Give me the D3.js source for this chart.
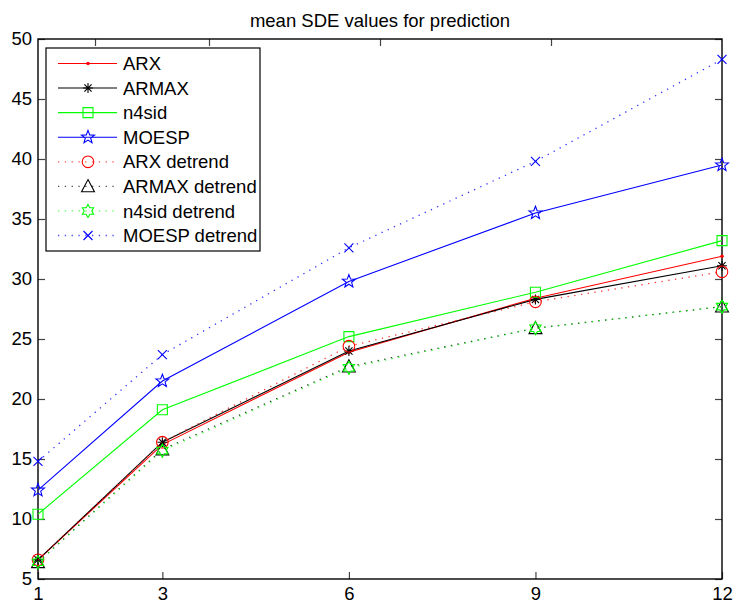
<!DOCTYPE html>
<html>
<head>
<meta charset="utf-8">
<script src="https://cdn.jsdelivr.net/npm/d3@7"></script>
<style>
  html, body { margin: 0; padding: 0; background: #fff; }
  svg { display: block; }
  text { font-family: "Liberation Sans", Arial, Helvetica, sans-serif; fill: #000; }
</style>
</head>
<body>
<svg id="chart" width="736" height="605"></svg>
<script>
// Prediction horizons (x axis)
const horizons = [1, 3, 6, 9, 12];
const xTicks = [1, 3, 6, 9, 12];
const yTicks = [5, 10, 15, 20, 25, 30, 35, 40, 45, 50];

// Mean SDE values per method
const arx          = [6.6, 16.2, 23.9, 28.4, 31.9];
const armax        = [6.6, 16.4, 24.0, 28.3, 31.1];
const n4sid        = [10.4, 19.1, 25.2, 28.9, 33.2];
const moesp        = [12.4, 21.5, 29.8, 35.5, 39.5];
const arxDetrend   = [6.6, 16.4, 24.4, 28.1, 30.6];
const armaxDetrend = [6.4, 15.8, 22.7, 25.9, 27.7];
const n4sidDetrend = [6.4, 15.7, 22.6, 25.9, 27.7];
const moespDetrend = [14.8, 23.7, 32.6, 39.8, 48.3];

const seriesNames = ["ARX", "ARMAX", "n4sid", "MOESP",
  "ARX detrend", "ARMAX detrend", "n4sid detrend", "MOESP detrend"];

const series = [
  { name: seriesNames[0], values: arx,          color: "#ff0000", dotted: false, marker: "point" },
  { name: seriesNames[1], values: armax,        color: "#000000", dotted: false, marker: "asterisk" },
  { name: seriesNames[2], values: n4sid,        color: "#00ff00", dotted: false, marker: "square" },
  { name: seriesNames[3], values: moesp,        color: "#0000ff", dotted: false, marker: "pentagram" },
  { name: seriesNames[4], values: arxDetrend,   color: "#ff0000", dotted: true,  marker: "circle" },
  { name: seriesNames[5], values: armaxDetrend, color: "#000000", dotted: true,  marker: "triangle" },
  { name: seriesNames[6], values: n4sidDetrend, color: "#00ff00", dotted: true,  marker: "hexagram" },
  { name: seriesNames[7], values: moespDetrend, color: "#0000ff", dotted: true,  marker: "cross" }
];

const svg = d3.select("#chart");
const plotLeft = 38, plotRight = 722, plotTop = 39, plotBottom = 579;

const x = d3.scaleLinear().domain([1, 12]).range([plotLeft, plotRight]);
const y = d3.scaleLinear().domain([5, 50]).range([plotBottom, plotTop]);
// top edge ticks are laid out on a 0..12 span
const xTop = d3.scaleLinear().domain([0, 12]).range([plotLeft, plotRight]);

const FONT = 18.5;

// Title
svg.append("text")
  .attr("x", (plotLeft + plotRight) / 2).attr("y", 27)
  .attr("text-anchor", "middle")
  .style("font-size", FONT + "px")
  .text("mean SDE values for prediction");

// Axes (ticks point inward, box drawn on all sides)
const tickLen = 7;
const axisBottom = svg.append("g").attr("transform", `translate(0,${plotBottom})`)
  .call(d3.axisBottom(x).tickValues(xTicks).tickSize(-tickLen).tickPadding(8).tickFormat(d3.format("d")));
const axisLeft = svg.append("g").attr("transform", `translate(${plotLeft},0)`)
  .call(d3.axisLeft(y).tickValues(yTicks).tickSize(-tickLen).tickPadding(6).tickFormat(d3.format("d")));
const axisTop = svg.append("g").attr("transform", `translate(0,${plotTop})`)
  .call(d3.axisTop(xTop).tickValues([1, 3, 6, 9]).tickSize(-tickLen).tickFormat(""));
const axisRight = svg.append("g").attr("transform", `translate(${plotRight},0)`)
  .call(d3.axisRight(y).tickValues(yTicks).tickSize(-tickLen).tickFormat(""));

[axisBottom, axisLeft, axisTop, axisRight].forEach(g => {
  g.select(".domain").remove();
  g.selectAll(".tick line").attr("stroke", "#444").attr("stroke-width", 1.2);
  g.selectAll(".tick text").style("font-size", FONT + "px")
    .style("font-family", "'Liberation Sans', Arial, sans-serif").attr("fill", "#000");
});

svg.append("rect")
  .attr("x", plotLeft).attr("y", plotTop)
  .attr("width", plotRight - plotLeft).attr("height", plotBottom - plotTop)
  .attr("fill", "none").attr("stroke", "#000").attr("stroke-width", 1.4);

// Marker shapes
function markerPath(type) {
  const p = d3.path();
  switch (type) {
    case "square": {
      const s = 5;
      p.rect(-s, -s, 2 * s, 2 * s);
      break;
    }
    case "circle":
      p.moveTo(5.8, 0); p.arc(0, 0, 5.8, 0, 2 * Math.PI);
      break;
    case "triangle": {
      const r = 6.8;
      p.moveTo(0, -r);
      p.lineTo(r * 0.95, r * 0.8);
      p.lineTo(-r * 0.95, r * 0.8);
      p.closePath();
      break;
    }
    case "cross": {
      const s = 4.5;
      p.moveTo(-s, -s); p.lineTo(s, s);
      p.moveTo(s, -s); p.lineTo(-s, s);
      break;
    }
    case "asterisk": {
      const s = 5;
      p.moveTo(-s, 0); p.lineTo(s, 0);
      p.moveTo(0, -s); p.lineTo(0, s);
      const d = s * 0.72;
      p.moveTo(-d, -d); p.lineTo(d, d);
      p.moveTo(d, -d); p.lineTo(-d, d);
      break;
    }
    case "pentagram": {
      const R = 6.8, r = R * 0.42;
      for (let i = 0; i < 10; i++) {
        const a = -Math.PI / 2 + i * Math.PI / 5;
        const rr = i % 2 === 0 ? R : r;
        const px = rr * Math.cos(a), py = rr * Math.sin(a);
        if (i === 0) p.moveTo(px, py); else p.lineTo(px, py);
      }
      p.closePath();
      break;
    }
    case "hexagram": {
      const R = 6.5, r = R / Math.sqrt(3);
      for (let i = 0; i < 12; i++) {
        const a = -Math.PI / 2 + i * Math.PI / 6;
        const rr = i % 2 === 0 ? R : r;
        const px = rr * Math.cos(a), py = rr * Math.sin(a);
        if (i === 0) p.moveTo(px, py); else p.lineTo(px, py);
      }
      p.closePath();
      break;
    }
    default:
      break;
  }
  return p.toString();
}

function drawMarker(g, type, color, cx, cy) {
  if (type === "point") {
    g.append("circle").attr("cx", cx).attr("cy", cy).attr("r", 1.8).attr("fill", color);
    return;
  }
  g.append("path")
    .attr("d", markerPath(type))
    .attr("transform", `translate(${cx},${cy})`)
    .attr("fill", "none").attr("stroke", color).attr("stroke-width", 1.1);
}

const line = d3.line().x((d, i) => x(horizons[i])).y(d => y(d));
const plot = svg.append("g");

series.forEach(s => {
  const g = plot.append("g");
  g.append("path")
    .datum(s.values)
    .attr("d", line)
    .attr("fill", "none")
    .attr("stroke", s.color)
    .attr("stroke-width", s.dotted ? 1.3 : 1.1)
    .attr("stroke-dasharray", s.dotted ? "1.3,5.5" : null)
    .attr("stroke-opacity", s.dotted ? 0.8 : 1);
  s.values.forEach((v, i) => drawMarker(g, s.marker, s.color, x(horizons[i]), y(v)));
});

// Legend
const lg = svg.append("g");
lg.append("rect")
  .attr("x", 46).attr("y", 48).attr("width", 214).attr("height", 203)
  .attr("fill", "#fff").attr("stroke", "#000").attr("stroke-width", 1.2);
const rowY = d3.scaleLinear().domain([0, series.length - 1]).range([63.5, 235.5]);
series.forEach((s, i) => {
  const yy = rowY(i);
  lg.append("line")
    .attr("x1", 58).attr("x2", 117).attr("y1", yy).attr("y2", yy)
    .attr("stroke", s.color)
    .attr("stroke-width", s.dotted ? 1.3 : 1.1)
    .attr("stroke-dasharray", s.dotted ? "1.3,5.5" : null)
    .attr("stroke-opacity", s.dotted ? 0.7 : 1);
  drawMarker(lg, s.marker, s.color, 88, yy);
  lg.append("text")
    .attr("x", 123).attr("y", yy).attr("dy", "0.36em")
    .style("font-size", FONT + "px")
    .text(s.name);
});
</script>
</body>
</html>
